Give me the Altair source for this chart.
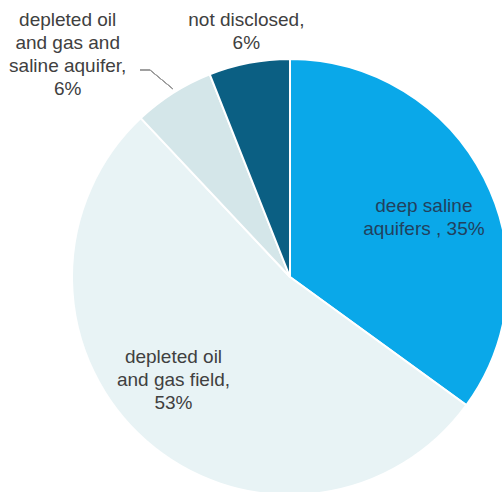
import altair as alt
import pandas as pd

categories = [
    "deep saline aquifers",
    "depleted oil and gas field",
    "depleted oil and gas and saline aquifer",
    "not disclosed",
]
shares = [35, 53, 6, 6]
labels = [
    "deep saline\naquifers , 35%",
    "depleted oil\nand gas field,\n53%",
    "depleted oil\nand gas and\nsaline aquifer,\n6%",
    "not disclosed,\n6%",
]
colors = ["#0AA8E9", "#E8F3F5", "#D4E6E9", "#0B5F83"]

df = pd.DataFrame({
    "category": categories,
    "value": shares,
    "label": labels,
    "idx": list(range(len(categories))),
})

CX, CY, R = 290, 277, 218
FONT = "Liberation Sans"
FS = 19

base = alt.Chart(df).encode(
    theta=alt.Theta("value:Q", stack=True),
    order=alt.Order("idx:Q"),
)

pie = base.mark_arc(outerRadius=R, stroke="white", strokeWidth=2).encode(
    x=alt.value(CX),
    y=alt.value(CY),
    color=alt.Color("category:N", scale=alt.Scale(domain=categories, range=colors), legend=None),
)


def label_layer(cat, radius, dx, dy, color):
    return base.mark_text(
        radius=radius, dx=dx, dy=dy, font=FONT, fontSize=FS, color=color,
        lineBreak="\n", align="center", baseline="middle", lineHeight=23,
    ).encode(
        x=alt.value(CX),
        y=alt.value(CY),
        text=alt.condition(alt.datum.category == cat, "label:N", alt.value("")),
    )


t1 = label_layer(categories[0], 148, 2, -4, "#21415E")
t2 = label_layer(categories[1], 155, -14, -36, "#404040")
t3 = label_layer(categories[2], 260, -83, -37, "#404040")
t4 = label_layer(categories[3], 249, 3, -12, "#404040")

lead1 = alt.Chart(df).mark_rule(color="#999999", strokeWidth=1).encode(
    x=alt.value(140), x2=alt.value(150), y=alt.value(70), y2=alt.value(70)
)
lead2 = alt.Chart(df).mark_rule(color="#999999", strokeWidth=1).encode(
    x=alt.value(150), x2=alt.value(173), y=alt.value(70), y2=alt.value(89)
)

chart = alt.layer(pie, lead1, lead2, t1, t2, t3, t4).properties(
    width=502, height=492, autosize="none", padding=0,
).configure_view(stroke=None)

chart.save("out.html", embed_options={"renderer": "svg", "actions": False})
